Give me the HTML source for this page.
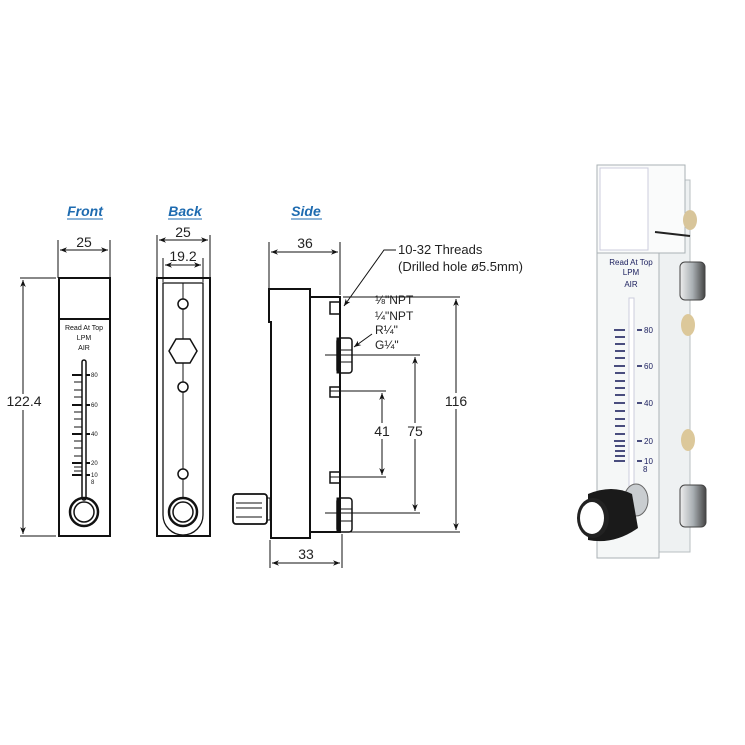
<!DOCTYPE html>
<html><head><meta charset="utf-8"><style>
html,body{margin:0;padding:0;background:#fff;}
svg{display:block;}
text{font-family:"Liberation Sans",sans-serif;}
</style></head><body>
<svg width="745" height="745" viewBox="0 0 745 745" xmlns="http://www.w3.org/2000/svg">
<defs>
<marker id="a" viewBox="0 0 10 10" refX="10" refY="5" markerWidth="7" markerHeight="7" orient="auto-start-reverse"><path d="M0,1 L10,5 L0,9 L3,5 z" fill="#111"/></marker>
<linearGradient id="m" x1="0" x2="1"><stop offset="0" stop-color="#eee"/><stop offset="0.5" stop-color="#aab0b4"/><stop offset="1" stop-color="#444"/></linearGradient>
</defs>
<g font-weight="bold" font-style="italic" fill="#1e6bb0" font-size="14" text-anchor="middle">
<text x="85" y="216">Front</text><line x1="67" y1="219" x2="103" y2="219" stroke="#1e6bb0"/>
<text x="185" y="216">Back</text><line x1="168" y1="219" x2="202" y2="219" stroke="#1e6bb0"/>
<text x="306" y="216">Side</text><line x1="291" y1="219" x2="322" y2="219" stroke="#1e6bb0"/>
</g>
<g stroke="#111" fill="none" stroke-width="1">
<line x1="58" y1="240" x2="58" y2="278"/><line x1="110" y1="240" x2="110" y2="278"/>
<line x1="60" y1="250" x2="108" y2="250" marker-start="url(#a)" marker-end="url(#a)"/>
<line x1="20" y1="278" x2="56" y2="278"/><line x1="20" y1="536" x2="56" y2="536"/>
<line x1="23" y1="280" x2="23" y2="534" marker-start="url(#a)" marker-end="url(#a)"/>
<rect x="59" y="278" width="51" height="258" stroke-width="2"/>
<rect x="59" y="278" width="51" height="41" stroke-width="2"/>
<rect x="82" y="360" width="4" height="140" rx="2" stroke-width="1.5"/>
<circle cx="84" cy="512" r="14" stroke-width="2.5"/>
<circle cx="84" cy="512" r="10" stroke-width="1.5"/>
<line x1="157" y1="235" x2="157" y2="278"/><line x1="210" y1="235" x2="210" y2="278"/>
<line x1="159" y1="240" x2="208" y2="240" marker-start="url(#a)" marker-end="url(#a)"/>
<line x1="163" y1="258" x2="163" y2="282"/><line x1="203" y1="258" x2="203" y2="282"/>
<line x1="165" y1="265" x2="201" y2="265" marker-start="url(#a)" marker-end="url(#a)"/>
<rect x="157" y="278" width="53" height="258" stroke-width="2"/>
<path d="M163,283 H203 V515 A20,20 0 0 1 163,515 Z" stroke-width="1.3"/>
<line x1="183" y1="283" x2="183" y2="498"/>
<circle cx="183" cy="304" r="5" fill="#fff" stroke-width="1.5"/>
<polygon points="169,351 176,339 190,339 197,351 190,363 176,363" fill="#fff" stroke-width="1.5"/>
<circle cx="183" cy="387" r="5" fill="#fff" stroke-width="1.5"/>
<circle cx="183" cy="474" r="5" fill="#fff" stroke-width="1.5"/>
<circle cx="183" cy="512" r="14" fill="#fff" stroke-width="2.5"/>
<circle cx="183" cy="512" r="10" stroke-width="1.5"/>
<line x1="269" y1="242" x2="269" y2="288"/><line x1="340" y1="242" x2="340" y2="295"/>
<line x1="271" y1="252" x2="338" y2="252" marker-start="url(#a)" marker-end="url(#a)"/>
<path d="M269,289 H310 V538 H271 V322 H269 Z" stroke-width="2"/>
<rect x="310" y="297" width="30" height="235" stroke-width="2"/>
<rect x="330" y="302" width="10" height="12" stroke-width="1.5"/>
<rect x="330" y="387" width="10" height="10" stroke-width="1.5"/>
<rect x="330" y="472" width="10" height="11" stroke-width="1.5"/>
<rect x="337" y="338" width="15" height="35" rx="3" stroke-width="1.5"/>
<line x1="339" y1="350" x2="352" y2="350"/><line x1="339" y1="362" x2="352" y2="362"/>
<rect x="337" y="498" width="15" height="34" rx="3" stroke-width="1.5"/>
<line x1="339" y1="509" x2="352" y2="509"/><line x1="339" y1="521" x2="352" y2="521"/>
<rect x="337" y="338" width="3" height="35" fill="#111"/>
<rect x="337" y="498" width="3" height="34" fill="#111"/>
<rect x="233" y="494" width="34" height="30" rx="3" stroke-width="1.8"/>
<line x1="236" y1="503" x2="262" y2="503"/><line x1="236" y1="508" x2="262" y2="508"/>
<line x1="236" y1="517" x2="262" y2="517"/>
<rect x="267" y="498" width="3" height="22"/>
<line x1="270" y1="540" x2="270" y2="568"/><line x1="342" y1="534" x2="342" y2="568"/>
<line x1="272" y1="563" x2="340" y2="563" marker-start="url(#a)" marker-end="url(#a)"/>
<line x1="343" y1="297" x2="460" y2="297"/><line x1="343" y1="532" x2="460" y2="532"/>
<line x1="456" y1="299" x2="456" y2="530" marker-start="url(#a)" marker-end="url(#a)"/>
<line x1="325" y1="355" x2="420" y2="355"/><line x1="325" y1="513" x2="420" y2="513"/>
<line x1="415" y1="357" x2="415" y2="511" marker-start="url(#a)" marker-end="url(#a)"/>
<line x1="330" y1="391" x2="386" y2="391"/><line x1="330" y1="477" x2="386" y2="477"/>
<line x1="382" y1="393" x2="382" y2="475" marker-start="url(#a)" marker-end="url(#a)"/>
<polyline points="396,250 384,250 344,306" marker-end="url(#a)"/>
<line x1="372" y1="334" x2="354" y2="347" marker-end="url(#a)"/>
</g>
<g stroke="#111" stroke-width="1">
<line x1="72" y1="375" x2="82" y2="375" stroke-width="2"/><line x1="86" y1="375" x2="90" y2="375" stroke-width="2"/>
<line x1="74" y1="382" x2="82" y2="382"/><line x1="74" y1="390" x2="82" y2="390"/><line x1="74" y1="397" x2="82" y2="397"/>
<line x1="72" y1="405" x2="82" y2="405" stroke-width="2"/><line x1="86" y1="405" x2="90" y2="405" stroke-width="2"/>
<line x1="74" y1="412" x2="82" y2="412"/><line x1="74" y1="419" x2="82" y2="419"/><line x1="74" y1="427" x2="82" y2="427"/>
<line x1="72" y1="434" x2="82" y2="434" stroke-width="2"/><line x1="86" y1="434" x2="90" y2="434" stroke-width="2"/>
<line x1="74" y1="441" x2="82" y2="441"/><line x1="74" y1="448" x2="82" y2="448"/><line x1="74" y1="456" x2="82" y2="456"/>
<line x1="72" y1="463" x2="82" y2="463" stroke-width="2"/><line x1="86" y1="463" x2="90" y2="463" stroke-width="2"/>
<line x1="74" y1="467" x2="82" y2="467"/><line x1="74" y1="471" x2="82" y2="471"/>
<line x1="72" y1="475" x2="82" y2="475" stroke-width="2"/><line x1="86" y1="475" x2="90" y2="475" stroke-width="2"/>
</g>
<g font-size="6" fill="#111">
<text x="91" y="377">80</text><text x="91" y="407">60</text><text x="91" y="436">40</text><text x="91" y="465">20</text><text x="91" y="477">10</text><text x="91" y="484">8</text>
</g>
<g font-size="7" fill="#111" text-anchor="middle">
<text x="84" y="330">Read At Top</text><text x="84" y="340">LPM</text><text x="84" y="350">AIR</text>
</g>
<g font-size="14" fill="#222" text-anchor="middle">
<text x="84" y="247">25</text><text x="183" y="237">25</text><text x="183" y="261">19.2</text>
<text x="305" y="248">36</text><text x="306" y="559">33</text>
</g>
<rect x="3" y="394" width="42" height="16" fill="#fff"/>
<text x="24" y="406" font-size="14" fill="#222" text-anchor="middle">122.4</text>
<rect x="444" y="393" width="24" height="16" fill="#fff"/><text x="456" y="406" font-size="14" fill="#222" text-anchor="middle">116</text>
<rect x="405" y="423" width="20" height="16" fill="#fff"/><text x="415" y="436" font-size="14" fill="#222" text-anchor="middle">75</text>
<rect x="372" y="423" width="20" height="16" fill="#fff"/><text x="382" y="436" font-size="14" fill="#222" text-anchor="middle">41</text>
<g font-size="13" fill="#222">
<text x="398" y="254">10-32 Threads</text><text x="398" y="271">(Drilled hole ø5.5mm)</text>
<text x="375" y="304" font-size="12">⅛"NPT</text><text x="375" y="320" font-size="12">¼"NPT</text>
<text x="375" y="334" font-size="12">R¼"</text><text x="375" y="349" font-size="12">G¼"</text>
</g>
<!-- PHOTO -->
<g>
<rect x="655" y="180" width="35" height="372" fill="#eef1f2" stroke="#b8bfc2"/>
<rect x="597" y="253" width="62" height="305" fill="#f5f7f7" stroke="#aab2b5"/>
<rect x="597" y="165" width="88" height="88" fill="#fafbfb" stroke="#aab2b5"/>
<rect x="600" y="168" width="48" height="82" fill="#fff" stroke="#ccd"/>
<line x1="655" y1="232" x2="690" y2="236" stroke="#222" stroke-width="2"/>
<ellipse cx="690" cy="220" rx="7" ry="10" fill="#d8c59a"/>
<rect x="680" y="262" width="25" height="38" rx="5" fill="url(#m)" stroke="#444"/>
<ellipse cx="688" cy="325" rx="7" ry="11" fill="#dcc89a"/>
<ellipse cx="688" cy="440" rx="7" ry="11" fill="#dcc89a"/>
<rect x="680" y="485" width="26" height="42" rx="5" fill="url(#m)" stroke="#444"/>
<rect x="629" y="298" width="5" height="200" fill="#fff" stroke="#ccd"/>
<g fill="#1e2260" font-size="8" text-anchor="middle">
<text x="631" y="265">Read At Top</text><text x="631" y="275">LPM</text><text x="631" y="287">AIR</text>
</g>
<g stroke="#1e2260" stroke-width="1.6">
<line x1="614" y1="330" x2="625" y2="330"/><line x1="637" y1="330" x2="642" y2="330"/>
<line x1="615" y1="337" x2="625" y2="337"/><line x1="615" y1="344" x2="625" y2="344"/><line x1="615" y1="351" x2="625" y2="351"/><line x1="615" y1="358" x2="625" y2="358"/>
<line x1="614" y1="366" x2="625" y2="366"/><line x1="637" y1="366" x2="642" y2="366"/>
<line x1="615" y1="373" x2="625" y2="373"/><line x1="615" y1="381" x2="625" y2="381"/><line x1="615" y1="388" x2="625" y2="388"/><line x1="615" y1="395" x2="625" y2="395"/>
<line x1="614" y1="403" x2="625" y2="403"/><line x1="637" y1="403" x2="642" y2="403"/>
<line x1="615" y1="411" x2="625" y2="411"/><line x1="615" y1="419" x2="625" y2="419"/><line x1="615" y1="426" x2="625" y2="426"/><line x1="615" y1="434" x2="625" y2="434"/>
<line x1="614" y1="441" x2="625" y2="441"/><line x1="637" y1="441" x2="642" y2="441"/>
<line x1="615" y1="446" x2="625" y2="446"/><line x1="615" y1="451" x2="625" y2="451"/><line x1="615" y1="456" x2="625" y2="456"/>
<line x1="614" y1="461" x2="625" y2="461"/><line x1="637" y1="461" x2="642" y2="461"/>
</g>
<g fill="#1e2260" font-size="8">
<text x="644" y="333">80</text><text x="644" y="369">60</text><text x="644" y="406">40</text><text x="644" y="444">20</text><text x="644" y="464">10</text><text x="643" y="472">8</text>
</g>
<ellipse cx="636" cy="500" rx="12" ry="16" fill="#c9cdd0" stroke="#666"/>
<path d="M588,494 Q612,484 632,494 L638,528 Q614,545 588,540 Z" fill="#1a1a1a"/>
<ellipse cx="593" cy="518" rx="16" ry="20" fill="#222"/>
<ellipse cx="592" cy="518" rx="12" ry="16" fill="#fff"/>
</g>
</svg>
</body></html>
